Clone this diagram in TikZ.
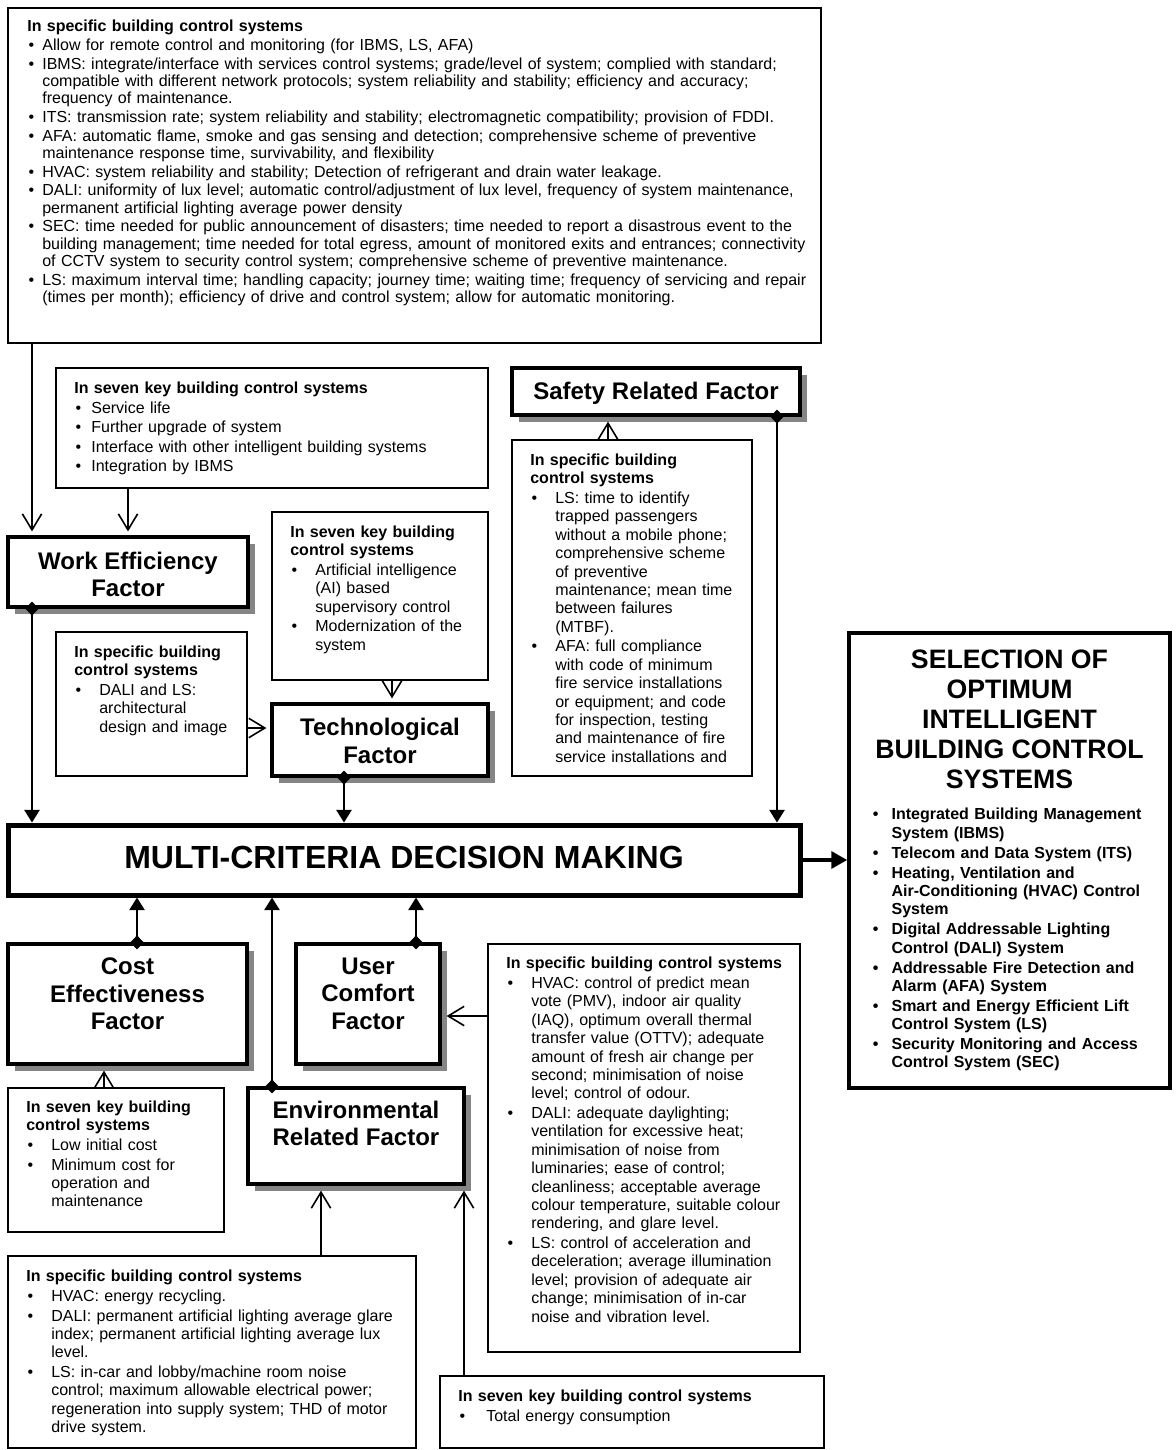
\documentclass[tikz,border=0pt]{standalone}
\usepackage{fontspec}
\setmainfont{Liberation Sans}
\usetikzlibrary{arrows.meta,calc,shadows}

% box from its corners, in pixel-like units (x right, y down)
\newcommand{\placebox}[6]{%
  \node[#1, minimum width={(#5-#3)*0.75pt}, minimum height={(#6-#4)*0.75pt}]
    (#2) at ({(#3+#5)/2},{(#4+#6)/2}) {};}
% bold list header and bullet item with hanging indent
\newcommand{\hdr}[1]{\setlength{\parskip}{0.9pt}\noindent\textbf{#1}}
\newcommand{\itm}[2]{\par\hangindent=#1\hangafter=1\noindent
  \hbox to #1{\hskip1pt\textbullet\hss}\ignorespaces#2}

\tikzset{
  thinbox/.style={draw, line width=1.4pt, fill=white, inner sep=0pt},
  factor/.style={draw, line width=2.4pt, fill=white, inner sep=0pt,
    drop shadow={shadow xshift=5pt, shadow yshift=-5pt, opacity=1, fill=black!48}},
  mainbox/.style={draw, line width=3.75pt, fill=white, inner sep=0pt},
  selbox/.style={draw, line width=2.5pt, fill=white, inner sep=0pt},
  body/.style={anchor=north west, inner sep=0pt, align=left,
    font=\fontsize{12}{13.8}\selectfont},
  smallbody/.style={anchor=north west, inner sep=0pt, align=left,
    font=\fontsize{12}{13.05}\selectfont},
  ftitle/.style={anchor=north, inner sep=0pt, align=center,
    font=\bfseries\fontsize{18}{20.7}\selectfont},
  conn/.style={line width=1.2pt},
  openarr/.style={arrows={-Straight Barb[length=12pt,width=14.5pt]}},
  dtri/.style={arrows={Diamond[length=10.5pt,width=10pt]-Triangle[length=9.5pt,width=11.5pt]}},
  bigarr/.style={line width=3.5pt, arrows={-Triangle[length=12pt,width=12.5pt]}}
}

\begin{document}
\begin{tikzpicture}[x=0.75pt, y=-0.75pt]
\path[use as bounding box, fill=white] (0,0) rectangle (1176,1450);

% ---------- boxes ----------
\placebox{thinbox}{topbox}{8}{8}{821}{343}
\placebox{thinbox}{workkey}{56}{368}{488}{488}
\placebox{factor}{safety}{512}{368}{800}{415}
\placebox{thinbox}{safetyspec}{512}{440}{752}{776}
\placebox{factor}{work}{8}{537}{248}{607}
\placebox{thinbox}{techkey}{272}{512}{488}{680}
\placebox{thinbox}{techspec}{56}{632}{247}{776}
\placebox{factor}{tech}{272}{704}{488}{776}
\placebox{mainbox}{mcdm}{8}{825}{800}{895}
\placebox{selbox}{sel}{849}{633}{1170}{1088}
\placebox{factor}{cost}{8}{944}{247}{1064}
\placebox{factor}{uc}{296}{944}{440}{1064}
\placebox{thinbox}{ucspec}{488}{944}{800}{1352}
\placebox{thinbox}{costkey}{8}{1088}{224}{1232}
\placebox{factor}{env}{248}{1088}{464}{1184}
\placebox{thinbox}{envspec}{8}{1256}{416}{1448}
\placebox{thinbox}{envkey}{440}{1376}{824}{1448}

% ---------- factor titles ----------
\node[ftitle] (safetyT) at ($(safety.north)+(0,15)$) {Safety Related Factor};
\node[ftitle] (workT) at ($(work.north)+(0,16)$) {Work Efficiency\\Factor};
\node[ftitle] (techT) at ($(tech.north)+(0,15.5)$) {Technological\\Factor};
\node[ftitle] (costT) at ($(cost.north)+(0,15)$) {Cost\\Effectiveness\\Factor};
\node[ftitle] (ucT) at ($(uc.north)+(0,15)$) {User\\Comfort\\Factor};
\node[ftitle] (envT) at ($(env.north)+(0,14)$) {Environmental\\Related Factor};
\node[anchor=base, inner sep=0pt, font=\bfseries\fontsize{24}{27.6}\selectfont]
  (mcdmT) at ($(mcdm.center)+(0,8)$) {MULTI-CRITERIA DECISION MAKING};

% ---------- selection box ----------
\node[anchor=north, inner sep=0pt, align=center, font=\bfseries\fontsize{20}{22.5}\selectfont]
  (selT) at ($(sel.north)+(0,18)$) {SELECTION OF\\OPTIMUM\\INTELLIGENT\\BUILDING CONTROL\\SYSTEMS};
\node[body, text width=230pt, font=\bfseries\fontsize{12}{13.8}\selectfont]
  (selL) at ($(sel.north west)+(24,168.5)$) {\setlength{\parskip}{1.1pt}%
  \itm{15pt}{Integrated Building Management\newline System (IBMS)}
  \itm{15pt}{Telecom and Data System (ITS)}
  \itm{15pt}{Heating, Ventilation and\newline Air-Conditioning (HVAC) Control\newline System}
  \itm{15pt}{Digital Addressable Lighting\newline Control (DALI) System}
  \itm{15pt}{Addressable Fire Detection and\newline Alarm (AFA) System}
  \itm{15pt}{Smart and Energy Efficient Lift\newline Control System (LS)}
  \itm{15pt}{Security Monitoring and Access\newline Control System (SEC)}\par};

% ---------- criteria lists ----------
\node[smallbody, text width=640pt] (topT) at ($(topbox.north west)+(20,13)$) {%
  \hdr{In specific building control systems}
  \itm{11.25pt}{Allow for remote control and monitoring (for IBMS, LS, AFA)}
  \itm{11.25pt}{IBMS: integrate/interface with services control systems; grade/level of system; complied with standard;\newline compatible with different network protocols; system reliability and stability; efficiency and accuracy;\newline frequency of maintenance.}
  \itm{11.25pt}{ITS: transmission rate; system reliability and stability; electromagnetic compatibility; provision of FDDI.}
  \itm{11.25pt}{AFA: automatic flame, smoke and gas sensing and detection; comprehensive scheme of preventive\newline maintenance response time, survivability, and flexibility}
  \itm{11.25pt}{HVAC: system reliability and stability; Detection of refrigerant and drain water leakage.}
  \itm{11.25pt}{DALI: uniformity of lux level; automatic control/adjustment of lux level, frequency of system maintenance,\newline permanent artificial lighting average power density}
  \itm{11.25pt}{SEC: time needed for public announcement of disasters; time needed to report a disastrous event to the\newline building management; time needed for total egress, amount of monitored exits and entrances; connectivity\newline of CCTV system to security control system; comprehensive scheme of preventive maintenance.}
  \itm{11.25pt}{LS: maximum interval time; handling capacity; journey time; waiting time; frequency of servicing and repair\newline (times per month); efficiency of drive and control system; allow for automatic monitoring.}\par};

\node[body, text width=305pt] (workkeyT) at ($(workkey.north west)+(19,14.5)$) {%
  \hdr{In seven key building control systems}
  \itm{12.75pt}{Service life}
  \itm{12.75pt}{Further upgrade of system}
  \itm{12.75pt}{Interface with other intelligent building systems}
  \itm{12.75pt}{Integration by IBMS}\par};

\node[body, text width=172pt] (safetyspecT) at ($(safetyspec.north west)+(19,14.5)$) {%
  \hdr{In specific building\newline control systems}
  \itm{18.75pt}{LS: time to identify\newline trapped passengers\newline without a mobile phone;\newline comprehensive scheme\newline of preventive\newline maintenance; mean time\newline between failures\newline (MTBF).}
  \itm{18.75pt}{AFA: full compliance\newline with code of minimum\newline fire service installations\newline or equipment; and code\newline for inspection, testing\newline and maintenance of fire\newline service installations and}\par};

\node[body, text width=152pt] (techkeyT) at ($(techkey.north west)+(19,14.5)$) {%
  \hdr{In seven key building\newline control systems}
  \itm{18.75pt}{Artificial intelligence\newline (AI) based\newline supervisory control}
  \itm{18.75pt}{Modernization of the\newline system}\par};

\node[body, text width=136pt] (techspecT) at ($(techspec.north west)+(19,14.5)$) {%
  \hdr{In specific building\newline control systems}
  \itm{18.75pt}{DALI and LS:\newline architectural\newline design and image}\par};

\node[body, text width=226pt] (ucspecT) at ($(ucspec.north west)+(19,14)$) {%
  \hdr{In specific building control systems}
  \itm{18.75pt}{HVAC: control of predict mean\newline vote (PMV), indoor air quality\newline (IAQ), optimum overall thermal\newline transfer value (OTTV); adequate\newline amount of fresh air change per\newline second; minimisation of noise\newline level; control of odour.}
  \itm{18.75pt}{DALI: adequate daylighting;\newline ventilation for excessive heat;\newline minimisation of noise from\newline luminaries; ease of control;\newline cleanliness; acceptable average\newline colour temperature, suitable colour\newline rendering, and glare level.}
  \itm{18.75pt}{LS: control of acceleration and\newline deceleration; average illumination\newline level; provision of adequate air\newline change; minimisation of in-car\newline noise and vibration level.}\par};

\node[body, text width=152pt] (costkeyT) at ($(costkey.north west)+(19,13.5)$) {%
  \hdr{In seven key building\newline control systems}
  \itm{18.75pt}{Low initial cost}
  \itm{18.75pt}{Minimum cost for\newline operation and\newline maintenance}\par};

\node[body, text width=296pt] (envspecT) at ($(envspec.north west)+(19,15)$) {%
  \hdr{In specific building control systems}
  \itm{18.75pt}{HVAC: energy recycling.}
  \itm{18.75pt}{DALI: permanent artificial lighting average glare\newline index; permanent artificial lighting average lux\newline level.}
  \itm{18.75pt}{LS: in-car and lobby/machine room noise\newline control; maximum allowable electrical power;\newline regeneration into supply system; THD of motor\newline drive system.}\par};

\node[body, text width=272pt] (envkeyT) at ($(envkey.north west)+(19,14.5)$) {%
  \hdr{In seven key building control systems}
  \itm{21pt}{Total energy consumption}\par};

% ---------- connectors ----------
\draw[conn, openarr] (32,0 |- topbox.south) -- ($(32,0 |- work.north)+(0,-4)$);
\draw[conn, openarr] (128,0 |- workkey.south) -- ($(128,0 |- work.north)+(0,-4)$);
\draw[conn, dtri] ($(32,0 |- work.south)+(0,-7)$) -- (32,0 |- mcdm.north);

\draw[conn, openarr] (392,0 |- techkey.south) -- ($(392,0 |- tech.north)+(0,-4)$);
\draw[conn, openarr] (techspec.east |- 0,728) -- ($(tech.west |- 0,728)+(-4,0)$);
\draw[conn, dtri] ($(344,0 |- tech.south)+(0,-7)$) -- (344,0 |- mcdm.north);

\draw[conn, openarr] (608,0 |- safetyspec.north) -- ($(608,0 |- safety.south)+(0,5)$);
\draw[conn, dtri] ($(777,0 |- safety.south)+(0,-7)$) -- (777,0 |- mcdm.north);

\draw[bigarr] (mcdm.east) -- (sel.west |- mcdm.east);

\draw[conn, dtri] ($(137,0 |- cost.north)+(0,7)$) -- (137,0 |- mcdm.south);
\draw[conn, dtri] ($(272,0 |- env.north)+(0,7)$) -- (272,0 |- mcdm.south);
\draw[conn, dtri] ($(416,0 |- uc.north)+(0,7)$) -- (416,0 |- mcdm.south);

\draw[conn, openarr] (ucspec.west |- 0,1016) -- ($(uc.east |- 0,1016)+(5,0)$);
\draw[conn, openarr] (104,0 |- costkey.north) -- ($(104,0 |- cost.south)+(0,5)$);
\draw[conn, openarr] (321,0 |- envspec.north) -- ($(321,0 |- env.south)+(0,5)$);
\draw[conn, openarr] (464,0 |- envkey.north) -- ($(464,0 |- env.south)+(0,5)$);
\end{tikzpicture}
\end{document}
